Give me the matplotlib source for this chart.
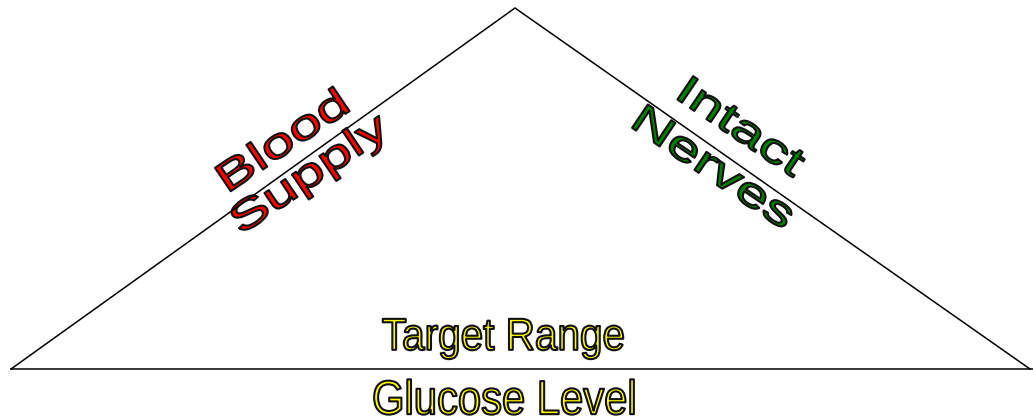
import matplotlib
matplotlib.use('Agg')
import matplotlib.pyplot as plt
from matplotlib.font_manager import FontProperties
from matplotlib.textpath import TextPath
from matplotlib.patches import PathPatch
from matplotlib.transforms import Affine2D

# triangle corners, in pixels (y grows downward)
tri_x = [11, 515, 1030]
tri_y = [369, 8, 369]
base_x = [11, 1033]
base_y = [369, 369]

# the words and where they sit (centre x, centre y)
labels = ['Blood', 'Supply', 'Intact', 'Nerves', 'Target Range', 'Glucose Level']
label_x = [282, 311, 743, 715, 503, 504]
label_y = [139, 175, 127, 167, 339, 397]
label_angle = [34, 34, -34, -34, 0, 0]
label_size = [41, 41, 41, 41, 45, 48]
label_stretch = [1.45, 1.45, 1.45, 1.45, 0.9, 0.87]
label_color = ['#ff0000', '#ff0000', '#008000', '#008000', '#ffff00', '#ffff00']

fp = FontProperties(family='Liberation Sans')


def outlined_word(ax, s, cx, cy, angle, size, stretch, color):
    tp = TextPath((0, 0), s, size=size, prop=fp)
    ext = tp.get_extents()
    mx = (ext.x0 + ext.x1) / 2
    my = (ext.y0 + ext.y1) / 2
    # y axis is flipped, so flip the glyphs too
    tr = (Affine2D().translate(-mx, -my).scale(stretch, -1)
          .rotate_deg(-angle).translate(cx, cy))
    path = tr.transform_path(tp)
    ax.add_patch(PathPatch(path, facecolor=color, edgecolor='#111111',
                           linewidth=1.5, joinstyle='round'))


fig = plt.figure(figsize=(10.33, 4.2), dpi=100)
ax = fig.add_axes([0, 0, 1, 1])
ax.set_xlim(0, 1033)
ax.set_ylim(420, 0)
ax.axis('off')

ax.plot(tri_x, tri_y, color='black', linewidth=1.1, solid_joinstyle='miter')
ax.plot(base_x, base_y, color='black', linewidth=1.1)

for i in range(len(labels)):
    outlined_word(ax, labels[i], label_x[i], label_y[i], label_angle[i],
                  label_size[i], label_stretch[i], label_color[i])

fig.savefig('out.png', dpi=100, facecolor='white')
